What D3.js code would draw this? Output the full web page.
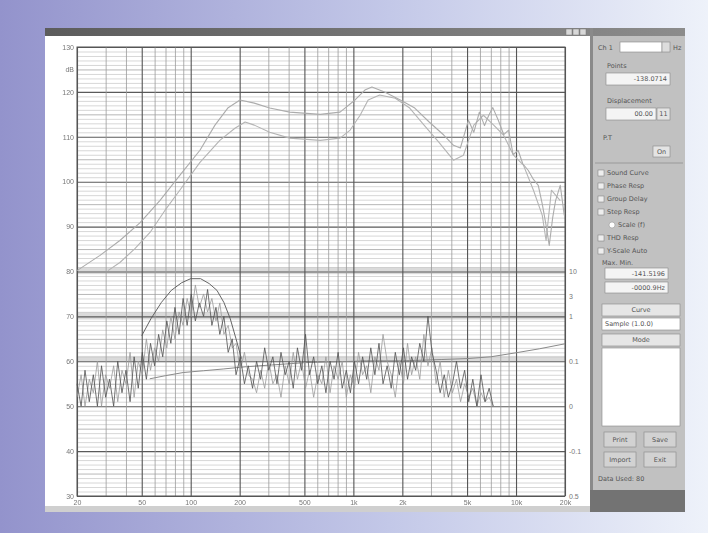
<!DOCTYPE html>
<html>
<head>
<meta charset="utf-8">
<script src="https://cdn.jsdelivr.net/npm/d3@7"></script>
<style>
  body { margin: 0; }
  svg { display: block; font-family: "DejaVu Sans", sans-serif; }
</style>
</head>
<body>
<svg id="chart" width="708" height="533"></svg>
<script>
// ---- data ----
const freqTicks = [20, 50, 100, 200, 500, 1000, 2000, 5000, 10000, 20000];
const freqLabels = ['20', '50', '100', '200', '500', '1k', '2k', '5k', '10k', '20k'];
const dbTicks = [130, 125, 120, 110, 100, 90, 80, 70, 60, 50, 40, 30];
const dbLabels = ['130', 'dB', '120', '110', '100', '90', '80', '70', '60', '50', '40', '30'];
const rightTicks = [80, 74.5, 70, 60, 50, 40, 30];
const rightLabels = ['10', '3', '1', '0.1', '0', '-0.1', '0.5'];
const bands = [[81, 79.4], [71, 69.3], [61.2, 60]];

// upper response curve
const upperFreq = [20, 27.7, 36.7, 48.9, 64.6, 85.7, 114, 141, 169, 201, 246, 306, 406, 626, 828, 1024, 1177, 1300, 1555, 1944, 2385, 2925, 3595, 4125, 4548,
  5100, 5500, 5950, 6400, 6800, 7200, 7780, 8400, 9000, 9600, 10300, 11000, 11900, 12800, 13700, 14500, 15300, 16000, 16800, 17500, 18700, 19800];
const upperDb = [80.2, 83.6, 86.9, 90.9, 95.8, 101.4, 107, 112.6, 116.4, 118.2, 117.5, 116.4, 115.5, 115, 115.5, 118.2, 120.4, 121.1, 120, 118.2, 116.4, 113.3, 110.4, 108.1, 107.5,
  113.7, 111, 115.5, 112.5, 114.8, 116.5, 113.7, 110.5, 111.5, 106, 107, 104, 102.5, 100.5, 99.2, 95, 90.3, 85.8, 92, 95.8, 99.2, 92.5];

// lower response curve
const lowerFreq = [31, 36.7, 45.4, 56.2, 69.4, 85.7, 114, 151, 187, 216, 246, 306, 406, 626, 828, 956, 1100, 1233, 1450, 1810, 2220, 2720, 3350, 4125, 4750,
  5500, 6300, 7290, 8370, 9650, 11100, 12800, 14500, 15300, 16500, 18700];
const lowerDb = [80.2, 82, 85.1, 88.7, 93.6, 98.1, 104.3, 109.2, 111.9, 113.3, 112.6, 111, 109.7, 109.2, 109.7, 111.5, 114.8, 118.2, 119.3, 118.6, 116.4, 112.6, 108.8, 104.8, 105.9,
  112.6, 114.8, 112.6, 110.4, 105.9, 103.7, 98.1, 92.5, 86.9, 98.1, 95.8];

// noisy lower traces
const noiseFreq = [20, 21.2, 22.4, 23.8, 25.2, 26.7, 28.3, 30, 31.7, 33.6, 35.6, 37.8, 40, 42.4, 44.9, 47.6, 50.4, 53.4, 56.6, 60,
  63.5, 67.3, 71.3, 75.5, 80, 84.8, 89.8, 95.1, 100.8, 106.8, 113, 120, 127, 135, 143, 151, 160, 170, 180, 190,
  202, 214, 226, 240, 254, 269, 285, 302, 320, 339, 359, 381, 403, 427, 453, 480, 508, 538, 570, 604,
  640, 678, 719, 761, 806, 854, 905, 959, 1016, 1076, 1140, 1208, 1280, 1356, 1437, 1522, 1613, 1709, 1810, 1918,
  2032, 2153, 2281, 2416, 2560, 2712, 2874, 3044, 3225, 3417, 3620, 3836, 4064, 4305, 4561, 4832, 5120, 5424, 5747, 6089,
  6451, 6835, 7241];
const noiseDark = [55, 50, 58, 51, 57, 50, 59, 52, 56, 50,
  60, 53, 58, 51, 61, 54, 62, 56, 64, 59,
  66, 61, 69, 64, 72, 66, 74, 68, 75, 69,
  73, 70, 76, 68, 72, 66, 70, 62, 65, 57,
  61, 55, 59, 54, 60, 56, 63, 58, 61, 55,
  62, 57, 60, 54, 63, 58, 66, 57, 61, 55,
  59, 53, 60, 56, 62, 54, 58, 53, 60, 55,
  61, 56, 63, 57, 64, 55, 59, 54, 62, 57,
  63, 56, 61, 58, 64, 60, 70, 62, 58, 53,
  57, 52, 55, 60, 54, 58, 51, 56, 50, 57,
  51, 54, 50];
const noiseLight = [52, 57, 50, 56, 53, 60, 50, 57, 54, 59,
  51, 58, 55, 62, 52, 60, 57, 65, 58, 63,
  60, 67, 63, 70, 65, 71, 68, 74, 70, 77,
  72, 75, 71, 74, 69, 73, 66, 68, 63, 64,
  58, 62, 57, 56, 53, 58, 54, 60, 55, 57,
  52, 59, 55, 62, 56, 60, 54, 58, 52, 57,
  55, 61, 53, 59, 56, 60, 52, 57, 54, 62,
  57, 59, 53, 61, 58, 66, 60, 57, 52, 60,
  55, 64, 57, 61, 56, 66, 59, 63, 55, 60,
  52, 58, 53, 56, 51, 55, 52, 54, 50, 53,
  51, 52, 50];

// smooth hump and flat smooth trace
const arcFreq = [50, 57, 66, 76, 88, 100, 115, 130, 145, 160, 175, 190, 205];
const arcDb = [65.7, 69.5, 73.1, 75.8, 77.5, 78.4, 78.4, 77.3, 75.8, 73.1, 69.5, 65, 60.6];
const impFreq = [56, 70, 90, 120, 160, 220, 320, 500, 800, 1200, 2000, 3500, 5000, 7000, 10000, 14000, 20000];
const impDb = [56.1, 56.8, 57.5, 57.9, 58.3, 58.8, 59.2, 59.7, 59.9, 60.1, 60.1, 60.4, 60.6, 61, 61.9, 62.8, 63.9];

// panel check boxes
const panelChecks = ['Sound Curve', 'Phase Resp', 'Group Delay', 'Step Resp', 'Scale (f)', 'THD Resp', 'Y-Scale Auto'];

// ---- drawing ----
const svg = d3.select('#chart');
const defs = svg.append('defs');

const bg = defs.append('linearGradient').attr('id', 'bg');
bg.append('stop').attr('offset', '0%').attr('stop-color', '#9393cc');
bg.append('stop').attr('offset', '55%').attr('stop-color', '#c3c8e8');
bg.append('stop').attr('offset', '100%').attr('stop-color', '#eef2fa');

const tb = defs.append('linearGradient').attr('id', 'tb');
tb.append('stop').attr('offset', '0%').attr('stop-color', '#5c5c5c');
tb.append('stop').attr('offset', '100%').attr('stop-color', '#8c8c8c');

// soft look like the scanned screenshot
defs.append('filter').attr('id', 'soft')
  .append('feGaussianBlur').attr('stdDeviation', 0.35);

svg.append('rect').attr('width', 708).attr('height', 533).attr('fill', 'url(#bg)');

// window
svg.append('rect').attr('x', 45).attr('y', 28).attr('width', 640).attr('height', 484).attr('fill', '#fff');
svg.append('rect').attr('x', 45).attr('y', 28).attr('width', 640).attr('height', 8).attr('fill', 'url(#tb)');
svg.append('rect').attr('x', 45).attr('y', 506).attr('width', 545).attr('height', 6).attr('fill', '#cfcfcf');
[566, 573, 580].forEach(bx => svg.append('rect').attr('x', bx).attr('y', 29).attr('width', 6).attr('height', 6)
  .attr('fill', '#d8d8d8').attr('stroke', '#777').attr('stroke-width', 0.5));

const plotLeft = 77, plotRight = 565, plotTop = 47, plotBottom = 496;
const x = d3.scaleLog().domain([20, 20000]).range([plotLeft, plotRight]);
const y = d3.scaleLinear().domain([30, 130]).range([plotBottom, plotTop]);

const plot = svg.append('g').attr('filter', 'url(#soft)');

// bands
plot.selectAll('rect.band').data(bands).enter().append('rect')
  .attr('class', 'band')
  .attr('x', plotLeft).attr('width', plotRight - plotLeft)
  .attr('y', d => y(d[0])).attr('height', d => y(d[1]) - y(d[0]))
  .attr('fill', '#dadada');

// horizontal grid
const hGrid = plot.append('g').attr('transform', `translate(${plotLeft},0)`)
  .call(d3.axisLeft(y).ticks(100).tickSize(-(plotRight - plotLeft)).tickFormat(''));
hGrid.select('.domain').remove();
hGrid.selectAll('line')
  .attr('stroke', d => d % 10 === 0 ? '#5a5a5a' : d % 5 === 0 ? '#a5a5a5' : '#cdcdcd')
  .attr('stroke-width', d => d % 10 === 0 ? 1.1 : 0.8);

// vertical grid
const isMajor = f => freqTicks.some(t => Math.abs(t - f) < 0.01);
const vGrid = plot.append('g').attr('transform', `translate(0,${plotBottom})`)
  .call(d3.axisBottom(x).tickValues(x.ticks()).tickSize(-(plotBottom - plotTop)).tickFormat(''));
vGrid.select('.domain').remove();
vGrid.selectAll('line')
  .attr('stroke', d => isMajor(d) ? '#555' : '#9a9a9a')
  .attr('stroke-width', d => isMajor(d) ? 1.1 : 0.8);

plot.append('rect').attr('x', plotLeft).attr('y', plotTop).attr('width', plotRight - plotLeft).attr('height', plotBottom - plotTop)
  .attr('fill', 'none').attr('stroke', '#555').attr('stroke-width', 1);

// axis labels
const styleLabels = g => {
  g.select('.domain').remove();
  g.selectAll('line').remove();
  g.selectAll('text').attr('fill', '#777').attr('font-size', 7);
};
svg.append('g').attr('transform', `translate(${plotLeft - 3},0)`)
  .call(d3.axisLeft(y).tickValues(dbTicks).tickSize(0).tickPadding(0).tickFormat((d, i) => dbLabels[i]))
  .call(styleLabels);
svg.append('g').attr('transform', `translate(${plotRight + 2},0)`)
  .call(d3.axisRight(y).tickValues(rightTicks).tickSize(0).tickPadding(2).tickFormat((d, i) => rightLabels[i]))
  .call(styleLabels);
svg.append('g').attr('transform', `translate(0,${plotBottom + 4})`)
  .call(d3.axisBottom(x).tickValues(freqTicks).tickSize(0).tickPadding(0).tickFormat((d, i) => freqLabels[i]))
  .call(styleLabels);

// traces
const line = d3.line().x(d => x(d[0])).y(d => y(d[1]));
const trace = (fs, vs, color, w) => plot.append('path')
  .datum(d3.zip(fs, vs))
  .attr('d', line).attr('fill', 'none')
  .attr('stroke', color).attr('stroke-width', w).attr('stroke-linejoin', 'round');

trace(impFreq, impDb, '#8a8a8a', 1);
trace(noiseFreq, noiseLight, '#9a9a9a', 0.8);
trace(noiseFreq, noiseDark, '#505050', 0.8);
trace(arcFreq, arcDb, '#555', 0.9);
trace(lowerFreq, lowerDb, '#b4b4b4', 1.1);
trace(upperFreq, upperDb, '#acacac', 1.1);

// ---- right control panel ----
const p = svg.append('g').attr('font-size', 6.5).attr('fill', '#555');
p.append('rect').attr('x', 590).attr('y', 36).attr('width', 95).attr('height', 454).attr('fill', '#c1c1c1');
p.append('rect').attr('x', 590).attr('y', 28).attr('width', 3).attr('height', 484).attr('fill', '#8a8a8a');
p.append('rect').attr('x', 590).attr('y', 490).attr('width', 95).attr('height', 22).attr('fill', '#737373');

const box = (bx, by, w, h, fill, txt, anchor) => {
  p.append('rect').attr('x', bx).attr('y', by).attr('width', w).attr('height', h)
    .attr('fill', fill).attr('stroke', '#888').attr('stroke-width', 0.6);
  if (txt) {
    const tx = anchor === 'middle' ? bx + w / 2 : anchor === 'end' ? bx + w - 3 : bx + 3;
    p.append('text').attr('x', tx).attr('y', by + h / 2 + 2.3).attr('text-anchor', anchor || 'start').text(txt);
  }
};
const label = (lx, ly, txt) => p.append('text').attr('x', lx).attr('y', ly).text(txt);

label(598, 50, 'Ch 1');
box(620, 42, 42, 10, '#fff', '');
box(662, 42, 8, 10, '#ddd', '');
label(673, 50, 'Hz');
label(607, 68, 'Points');
box(606, 73, 64, 12, '#f4f4f4', '-138.0714', 'end');
label(607, 103, 'Displacement');
box(606, 108, 50, 12, '#f4f4f4', '00.00', 'end');
box(657, 108, 13, 12, '#e4e4e4', '11', 'middle');
label(603, 140, 'P.T');
box(653, 146, 17, 11, '#e4e4e4', 'On', 'middle');
p.append('line').attr('x1', 595).attr('x2', 683).attr('y1', 163).attr('y2', 163).attr('stroke', '#999');

panelChecks.forEach((t, i) => {
  const cy = 175 + i * 13;
  if (i === 4) {
    p.append('circle').attr('cx', 612).attr('cy', cy - 2).attr('r', 3).attr('fill', '#fff').attr('stroke', '#888').attr('stroke-width', 0.5);
    label(618, cy, t);
  } else {
    p.append('rect').attr('x', 598).attr('y', cy - 5).attr('width', 6).attr('height', 6)
      .attr('fill', '#eee').attr('stroke', '#777').attr('stroke-width', 0.5);
    label(607, cy, t);
  }
});
label(602, 265, 'Max. Min.');
box(605, 268, 63, 11, '#f4f4f4', '-141.5196', 'end');
box(605, 282, 63, 11, '#f4f4f4', '-0000.9Hz', 'end');
box(602, 304, 78, 12, '#e6e6e6', 'Curve', 'middle');
box(602, 318, 78, 12, '#fff', 'Sample (1.0.0)');
box(602, 334, 78, 12, '#e6e6e6', 'Mode', 'middle');
box(602, 348, 78, 78, '#fff', '');
box(604, 432, 32, 15, '#d2d2d2', 'Print', 'middle');
box(644, 432, 32, 15, '#d2d2d2', 'Save', 'middle');
box(604, 452, 32, 15, '#d2d2d2', 'Import', 'middle');
box(644, 452, 32, 15, '#d2d2d2', 'Exit', 'middle');
label(598, 481, 'Data Used: 80');
</script>
</body>
</html>
